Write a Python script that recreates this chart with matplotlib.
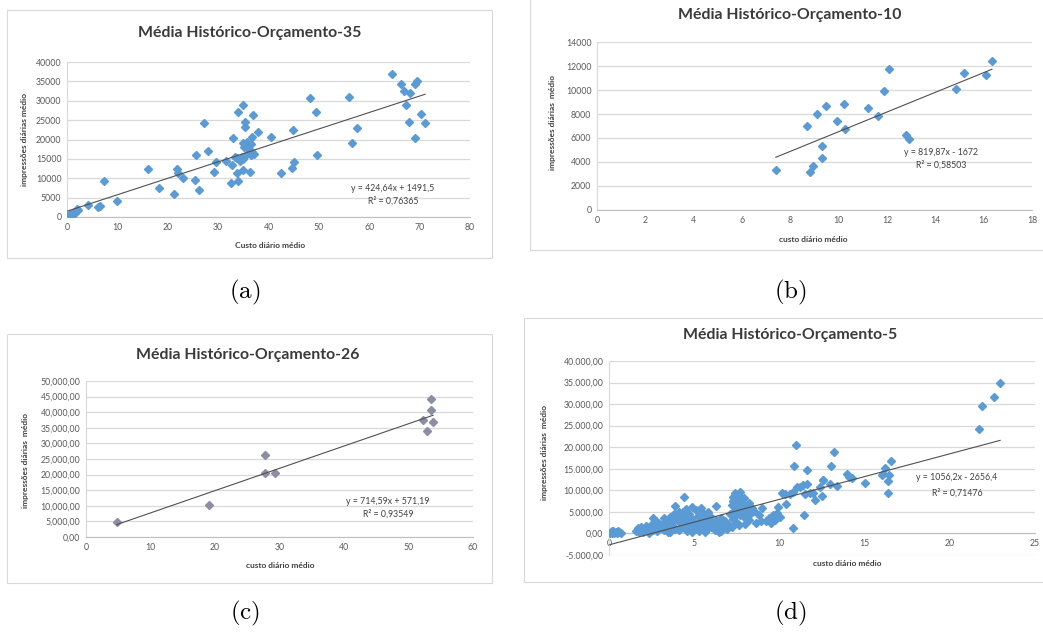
import numpy as np
import matplotlib
matplotlib.use('Agg')
from matplotlib import pyplot as plt
from matplotlib.patches import Rectangle

plt.rcParams['font.family'] = ['Lato', 'DejaVu Sans']
plt.rcParams['mathtext.fontset'] = 'cm'

W, H = 1043, 634

# ---- data ----
# (a) Orcamento-35
a_x = [0.0, 0.1, 0.4, 0.64, 1.0, 1.3, 1.6, 1.9, 2.1, 0.9,
       4.2, 6.2, 6.5, 7.4, 9.9, 16.0, 18.3, 21.2, 21.9, 22.1, 23.1, 25.4, 25.7, 26.3,
       27.2, 28.0, 29.2, 29.5, 31.5, 32.5, 32.7, 33.0, 33.8, 34.0, 34.0, 33.3, 33.7,
       34.3, 34.7, 34.9, 35.2, 35.7, 35.9, 36.5, 36.7, 35.7, 36.5, 34.9, 35.0, 35.3,
       35.3, 35.0, 36.3, 36.7, 37.0, 37.2, 38.0, 40.4, 42.4, 44.6, 44.9, 45.0, 48.3,
       49.4, 49.7, 55.9, 56.5, 57.5, 64.6, 66.4, 66.9, 67.2, 68.1, 67.8, 69.0, 69.5,
       69.1, 70.3, 71.1]
a_y = [0, 200, 100, 690, 300, 1370, 1120, 2060, 1900, 900,
       3100, 2600, 2800, 9370, 4200, 12380, 7400, 5850, 12400, 11270, 9980, 9550, 16000, 6970,
       24330, 17030, 11500, 14100, 14450, 8700, 13400, 20300, 11270, 9290, 27200, 15570, 15140,
       14450, 15570, 19000, 18150, 19260, 17720, 18750, 16860, 16170, 16000, 28900, 12130, 24600,
       23300, 14900, 11530, 20700, 26300, 16300, 22000, 20530, 11230, 12520, 22450, 14240, 30800,
       27000, 16100, 31030, 18970, 23000, 36800, 34220, 32500, 28900, 31900, 24600, 34220, 35080,
       20470, 26500, 24200]
a_fit = (424.64, 1491.5)

# (b) Orcamento-10
b_x = [7.4, 8.67, 8.81, 8.92, 9.12, 9.3, 9.3, 9.48, 9.94, 10.23, 10.26,
       11.23, 11.62, 11.88, 12.09, 12.8, 12.9, 14.86, 15.17, 16.09, 16.34]
b_y = [3350, 7010, 3190, 3690, 7960, 5320, 4300, 8680, 7400, 8820, 6790,
       8460, 7850, 9930, 11780, 6290, 5880, 10120, 11420, 11230, 12390]
b_fit = (819.87, -1672)

# (c) Orcamento-26
c_x = [4.75, 19.1, 27.8, 27.8, 29.3, 52.3, 52.8, 53.5, 53.5, 53.8]
c_y = [4800, 10360, 26180, 20620, 20620, 37600, 33970, 44120, 40800, 36860]
c_fit = (714.59, 571.19)

# (d) Orcamento-5  (dense cluster estimated by eye)
d_near0 = [(0.05, 100), (0.1, 300), (0.2, 0), (0.25, 500), (0.3, 200), (0.4, 400),
           (0.45, 100), (0.5, 600), (0.6, 300), (0.7, 200), (0.15, 600)]
d_low = [(1.6, 500), (1.7, 1200), (1.8, 800), (1.9, 1500), (2.0, 400), (1.75, 300),
         (2.1, 1000), (2.2, 1800), (2.3, 600), (2.4, 1300), (2.5, 2200), (2.6, 3500),
         (2.6, 900), (2.7, 1600), (2.8, 500), (2.9, 2400), (3.0, 1200), (2.35, 200),
         (2.75, 2900), (3.1, 2000), (3.2, 700), (3.3, 3000), (3.4, 1500), (3.5, 2600),
         (3.6, 400), (3.6, 3800), (3.7, 1900), (3.8, 4400), (3.9, 6300), (3.9, 1100),
         (4.0, 3200), (3.25, 3600), (3.45, 300), (3.75, 2800)]
d_mid = [(4.1, 5000), (4.1, 800), (4.2, 2300), (4.3, 4000), (4.4, 8500), (4.4, 1400),
         (4.5, 3000), (4.5, 5600), (4.6, 500), (4.7, 2000), (4.7, 4500), (4.8, 3500),
         (4.9, 6200), (4.9, 1000), (5.0, 2600), (4.25, 3300), (4.65, 3800), (4.85, 300),
         (4.35, 5000), (5.1, 5500), (5.1, 1500), (5.2, 4000), (5.3, 600), (5.3, 2900),
         (5.4, 6000), (5.5, 1800), (5.5, 4700), (5.6, 3500), (5.7, 900), (5.8, 2400),
         (5.8, 5000), (5.9, 4000), (6.0, 1400), (6.0, 3000), (5.25, 2000), (5.65, 300),
         (5.45, 3800), (6.1, 2200), (6.2, 800), (6.3, 6300), (6.3, 3200), (6.4, 1600),
         (6.5, 2600), (6.6, 600), (6.6, 3500), (6.7, 1900), (6.8, 2800), (6.9, 1000),
         (7.0, 2300), (6.45, 400)]
d_blob = [(7.1, 4500), (7.2, 6500), (7.2, 1500), (7.3, 8500), (7.3, 3300), (7.4, 5500),
          (7.4, 9300), (7.5, 7500), (7.5, 2500), (7.6, 6200), (7.6, 8800), (7.7, 4300),
          (7.7, 9500), (7.8, 7000), (7.8, 5200), (7.9, 8200), (7.9, 3800), (8.0, 6000),
          (8.0, 2100), (7.25, 7600), (7.45, 4200), (7.65, 2000), (7.85, 6200), (7.55, 9000),
          (8.1, 5000), (8.2, 7000), (8.3, 4500), (8.4, 6000), (8.2, 3200), (8.5, 5200)]
d_sparse = [(8.6, 2500), (8.8, 4300), (8.9, 2800), (9.0, 6000), (9.2, 3000), (9.4, 3500),
            (9.5, 2500), (9.6, 4200), (9.74, 3090), (9.84, 4630), (9.94, 6180), (10.04, 3860),
            (10.13, 9420), (10.33, 9260), (10.36, 6720), (10.62, 9260), (10.82, 9650),
            (10.78, 1160), (11.01, 10810), (11.21, 10810), (11.41, 11190), (11.6, 11430),
            (11.5, 9260), (11.8, 9420), (12.0, 9420), (12.1, 7710), (11.46, 4240),
            (12.38, 10810), (12.58, 12500), (12.48, 8640), (12.54, 12340), (12.97, 11580),
            (13.36, 11030), (13.95, 13900), (14.1, 13110), (14.25, 12970), (15.0, 11720),
            (16.0, 13500), (16.1, 13890), (16.2, 15200), (16.45, 13500), (16.4, 12200),
            (16.35, 9400), (16.53, 16740)]
d_high = [(11.0, 20450), (13.2, 18900), (10.86, 15590), (11.6, 14820), (13.03, 15590),
          (21.71, 24320), (21.91, 29490), (22.61, 31650), (22.95, 34970)]
d_fit = (1056.2, -2656.4)

d_pts = np.array(d_near0 + d_low + d_mid + d_blob + d_sparse + d_high)
d_x, d_y = d_pts[:, 0], d_pts[:, 1]

blue = '#5b9bd5'
grid_c = '#d9d9d9'
tick_c = '#595959'


def box(l, t, r, b):
    return [l / W, 1 - b / H, (r - l) / W, (b - t) / H]


def ftext(x, y, s, **kw):
    fig.text(x / W, 1 - y / H, s, **kw)


def excel_ax(rect, xs, ys, fit, xlim, xticks, yticks, ylabels, color, ms=3.9):
    ax = fig.add_axes(rect)
    ax.plot(xs, ys, 'D', ms=ms, color=color, mec=color, zorder=3)
    xx = np.array([min(xs), max(xs)])
    ax.plot(xx, fit[0] * xx + fit[1], color='#505050', lw=0.8, zorder=4)
    ax.set_xlim(xlim)
    ax.set_ylim(yticks[0], yticks[-1])
    ax.set_xticks(xticks)
    ax.set_xticklabels([str(v) for v in xticks])
    ax.set_yticks(yticks)
    ax.set_yticklabels(ylabels)
    ax.yaxis.grid(True, color=grid_c, lw=0.9)
    ax.set_axisbelow(True)
    for s in ['top', 'right']:
        ax.spines[s].set_visible(False)
    ax.spines['left'].set_color(grid_c)
    ax.spines['bottom'].set_color('#bfbfbf')
    ax.tick_params(length=0, labelsize=6.3, labelcolor=tick_c, pad=4)
    ax.patch.set_alpha(0)
    return ax


fig = plt.figure(figsize=(W / 100, H / 100), dpi=100)

# chart frames
for (l, t, r, b) in [(7, 10, 492, 258), (530, -2, 1045, 250),
                     (7, 334, 492, 583), (524, 318, 1045, 582)]:
    fig.patches.append(Rectangle((l / W, 1 - b / H), (r - l) / W, (b - t) / H,
                                 transform=fig.transFigure, fill=False,
                                 ec=grid_c, lw=0.8))

tt = dict(fontsize=11.4, fontweight='bold', color='#3a3a3a', ha='center', va='center')
lab = dict(fontsize=6, fontweight='bold', color='#404040', ha='center', va='center')
eq = dict(fontsize=6.3, color='#404040', ha='center', va='center')
cap = dict(fontsize=18, color='black', ha='center', va='center')

# (a)
yt = list(range(0, 40001, 5000))
excel_ax(box(67, 62, 470, 217), a_x, a_y, a_fit, (0, 80), list(range(0, 81, 10)),
         yt, [str(v) for v in yt], blue)
ftext(250, 33, 'Média Histórico-Orçamento-35', **tt)
ftext(270, 246, 'Custo diário médio', **lab)
ftext(25, 140, 'impressões diárias médio', rotation=90, **lab)
ftext(393, 189, 'y = 424,64x + 1491,5', **eq)
ftext(393, 201, 'R² = 0,76365', **eq)
ftext(245, 292, r'$\mathrm{(a)}$', **cap)

# (b)
yt = list(range(0, 14001, 2000))
excel_ax(box(597, 42, 1032, 210), b_x, b_y, b_fit, (0, 18), list(range(0, 19, 2)),
         yt, [str(v) for v in yt], blue)
ftext(790, 15, 'Média Histórico-Orçamento-10', **tt)
ftext(813, 239, 'custo diário médio', **lab)
ftext(552, 123, 'impressões diárias  médio', rotation=90, **lab)
ftext(941, 152, 'y = 819,87x - 1672', **eq)
ftext(941, 165, 'R² = 0,58503', **eq)
ftext(790, 292, r'$\mathrm{(b)}$', **cap)

# (c)
yt = list(range(0, 50001, 5000))
excel_ax(box(86, 381, 473, 537), c_x, c_y, c_fit, (0, 60), list(range(0, 61, 10)),
         yt, [f'{v:,.0f},00' for v in yt], '#8c8fa3')
ftext(248, 355, 'Média Histórico-Orçamento-26', **tt)
ftext(280, 565, 'custo diário médio', **lab)
ftext(26, 460, 'impressões diárias  médio', rotation=90, **lab)
ftext(388, 502, 'y = 714,59x + 571,19', **eq)
ftext(388, 514, 'R² = 0,93549', **eq)
ftext(245, 613, r'$\mathrm{(c)}$', **cap)

# (d)
yt = list(range(-5000, 40001, 5000))
axd = excel_ax(box(609, 361, 1035, 555), d_x, d_y, d_fit, (0, 25), list(range(0, 26, 5)),
               yt, [f'{v:,.0f}'.replace(',', '.') + ',00' for v in yt], blue, ms=4.1)
axd.spines['bottom'].set_position(('data', 0))
ftext(790, 335, 'Média Histórico-Orçamento-5', **tt)
ftext(847, 563, 'custo diário médio', **lab)
ftext(545, 453, 'impressões diárias  médio', rotation=90, **lab)
ftext(957, 478, 'y = 1056,2x - 2656,4', **eq)
ftext(957, 493, 'R² = 0,71476', **eq)
ftext(790, 613, r'$\mathrm{(d)}$', **cap)

fig.savefig('out.png', dpi=100)
